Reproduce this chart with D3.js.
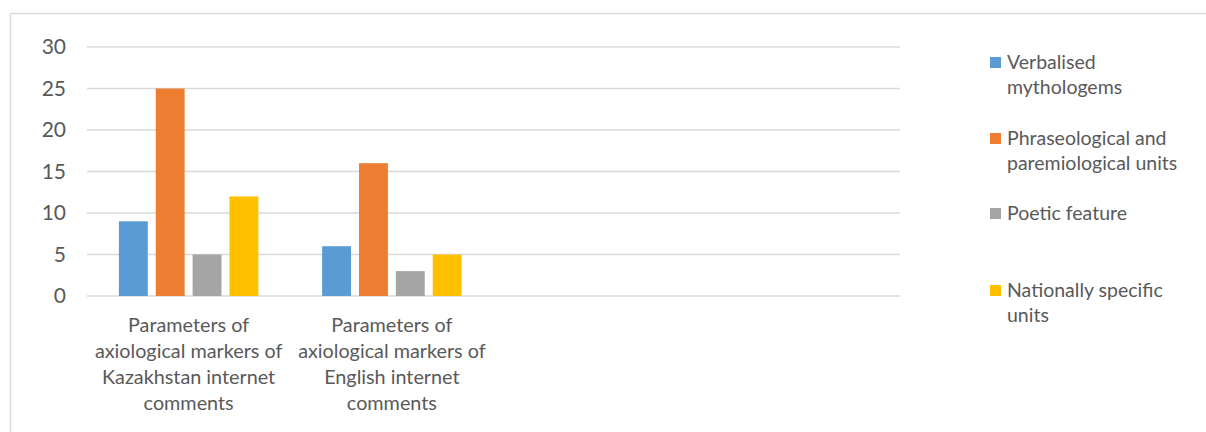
<!DOCTYPE html>
<html><head><meta charset="utf-8">
<script src="https://cdn.jsdelivr.net/npm/d3@7"></script>
<style>body{margin:0;background:#fff;}svg{display:block;font-family:Lato,"Open Sans",sans-serif;}</style>
</head><body><svg id="c" width="1206" height="432"></svg>
<script>
const categories = [
  ["Parameters of","axiological markers of","Kazakhstan internet","comments"],
  ["Parameters of","axiological markers of","English internet","comments"],
  [],
  []
];
const seriesNames = [
  ["Verbalised","mythologems"],
  ["Phraseological and","paremiological units"],
  ["Poetic feature"],
  ["Nationally specific","units"]
];
const seriesColors = ["#5B9BD5","#ED7D31","#A5A5A5","#FFC000"];
const values = [
  [9, 25, 5, 12],
  [6, 16, 3, 5]
];
const yTicks = [0,5,10,15,20,25,30];

const svg = d3.select("#c");
const txt = "#595959";
svg.append("path").attr("d","M10.5,440 V13.5 H1220").attr("fill","none").attr("stroke","#d9d9d9").attr("stroke-width",1.5);

const x0 = d3.scaleBand().domain(d3.range(categories.length)).range([87,900]).padding(0);
const x1 = d3.scaleBand().domain(d3.range(seriesNames.length)).range([0,x0.bandwidth()]).paddingInner(0.216).paddingOuter(0.865);
const y = d3.scaleLinear().domain([0,30]).range([296,47]);

svg.append("g").selectAll("line").data(yTicks).join("line")
  .attr("x1",87).attr("x2",900).attr("y1",d=>y(d)).attr("y2",d=>y(d))
  .attr("stroke","#d9d9d9").attr("stroke-width",1.5);

const yAxis = d3.axisLeft(y).tickValues(yTicks).tickSize(0).tickPadding(0);
const gy = svg.append("g").attr("transform","translate(66,0)").call(yAxis);
gy.select(".domain").remove();
gy.selectAll("text").attr("fill",txt).attr("font-size",21).attr("font-family","Lato,'Open Sans',sans-serif");

values.forEach((row,ci)=>{
  svg.append("g").selectAll("rect").data(row).join("rect")
    .attr("x",(d,si)=>x0(ci)+x1(si)).attr("width",x1.bandwidth())
    .attr("y",d=>y(d)).attr("height",d=>y(0)-y(d))
    .attr("fill",(d,si)=>seriesColors[si]);
});

categories.forEach((lines,ci)=>{
  const t = svg.append("text").attr("text-anchor","middle").attr("fill",txt).attr("font-size",19.8);
  lines.forEach((l,i)=>{
    t.append("tspan").attr("x",x0(ci)+x0.bandwidth()/2).attr("y",332+i*26).text(l);
  });
});

const legY = [62,138,213,290];
seriesNames.forEach((lines,si)=>{
  svg.append("rect").attr("x",990).attr("y",legY[si]-5).attr("width",11).attr("height",11).attr("fill",seriesColors[si]);
  const t = svg.append("text").attr("fill",txt).attr("font-size",19.5);
  lines.forEach((l,i)=>{
    t.append("tspan").attr("x",1007).attr("y",legY[si]+7+i*25).text(l);
  });
});
</script></body></html>
